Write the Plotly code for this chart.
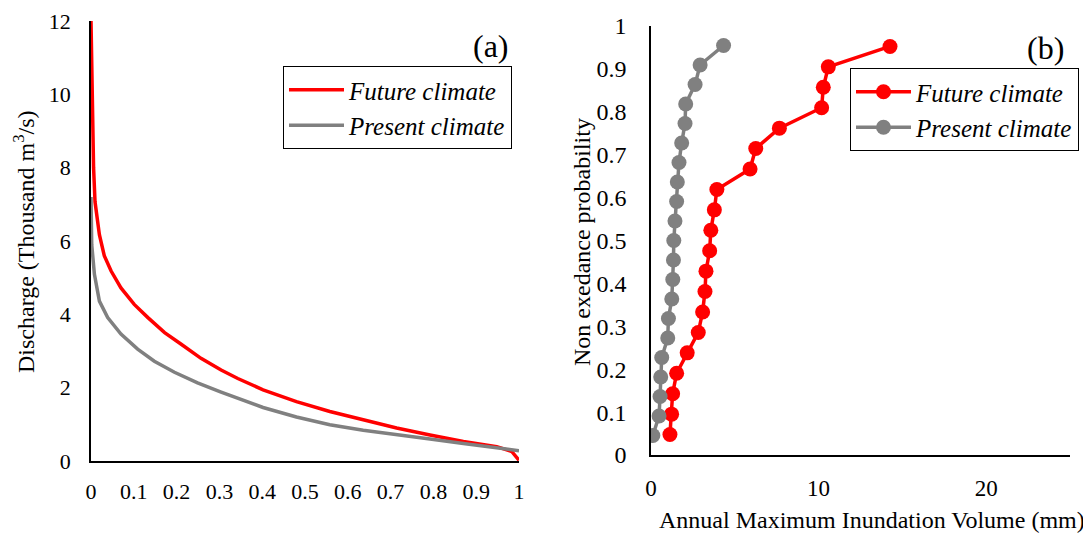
import plotly.graph_objects as go

# ---- Panel (a): flow duration curves ----
fut_p = [0, 0.002, 0.004, 0.006, 0.0094, 0.0196, 0.031, 0.047, 0.07, 0.101, 0.133, 0.172,
         0.21, 0.257, 0.304, 0.343, 0.402, 0.48, 0.558, 0.636, 0.714, 0.792, 0.87, 0.948,
         0.983, 1.0]
fut_q = [12, 10.2, 8.9, 8.0, 7.07, 6.17, 5.6, 5.18, 4.72, 4.27, 3.91, 3.5,
         3.19, 2.8, 2.48, 2.25, 1.94, 1.62, 1.35, 1.12, 0.9, 0.71, 0.53, 0.39,
         0.26, 0.02]
pres_p = [0, 0.0017, 0.008, 0.0196, 0.039, 0.07, 0.109, 0.148, 0.195, 0.249, 0.304, 0.343,
          0.402, 0.48, 0.558, 0.636, 0.714, 0.792, 0.87, 0.948, 1.0]
pres_q = [7.2, 5.9, 5.09, 4.36, 3.91, 3.46, 3.05, 2.72, 2.42, 2.13, 1.88, 1.71,
          1.46, 1.2, 0.99, 0.84, 0.71, 0.6, 0.48, 0.36, 0.28]

# ---- Panel (b): annual maximum inundation volume ----
fut_vol = [1.13, 1.23, 1.29, 1.53, 2.16, 2.82, 3.08, 3.22, 3.28, 3.5, 3.57, 3.78, 3.93,
           5.91, 6.25, 7.66, 10.18, 10.28, 10.58, 14.26]
fut_prob = [i / 21 for i in range(1, 21)]
pres_vol = [0.11, 0.48, 0.54, 0.58, 0.64, 1.0, 1.04, 1.24, 1.3, 1.34, 1.36, 1.43, 1.53,
            1.57, 1.67, 1.83, 2.03, 2.07, 2.63, 2.93, 4.33]
pres_prob = [i / 22 for i in range(1, 22)]

x_ticks_a = [0, 0.1, 0.2, 0.3, 0.4, 0.5, 0.6, 0.7, 0.8, 0.9, 1]
y_ticks_a = [0, 2, 4, 6, 8, 10, 12]
x_ticks_b = [0, 10, 20]
y_ticks_b = [0, 0.1, 0.2, 0.3, 0.4, 0.5, 0.6, 0.7, 0.8, 0.9, 1]

RED = "#FF0000"
GRAY = "#808080"
FONT = "Liberation Serif"

fig = go.Figure()
fig.add_trace(go.Scatter(x=fut_p, y=fut_q, mode="lines", name="Future climate",
                         line=dict(color=RED, width=3.5), xaxis="x", yaxis="y", legend="legend"))
fig.add_trace(go.Scatter(x=pres_p, y=pres_q, mode="lines", name="Present climate",
                         line=dict(color=GRAY, width=3.5), xaxis="x", yaxis="y", legend="legend"))
fig.add_trace(go.Scatter(x=fut_vol, y=fut_prob, mode="lines+markers", name="Future climate",
                         line=dict(color=RED, width=3.5), marker=dict(color=RED, size=15),
                         xaxis="x2", yaxis="y2", legend="legend2"))
fig.add_trace(go.Scatter(x=pres_vol, y=pres_prob, mode="lines+markers", name="Present climate",
                         line=dict(color=GRAY, width=3.5), marker=dict(color=GRAY, size=15),
                         xaxis="x2", yaxis="y2", legend="legend2"))

W, H = 1091, 533
OFF = 8  # page body margin offset
def fx(px):
    return (px - OFF) / W
def fy(py):
    return 1 - (py - OFF) / H

axis_common = dict(showgrid=False, zeroline=False, showline=True, linecolor="black", linewidth=1.5,
                   ticks="outside", tickcolor="rgba(0,0,0,0)", color="black", automargin=False,
                   ticklabeloverflow="allow")

def ann(text, x, y, size, angle=0):
    return dict(text=text, x=fx(x), y=fy(y), xref="paper", yref="paper", showarrow=False,
                xanchor="center", yanchor="middle", textangle=angle,
                font=dict(size=size, family=FONT))

fig.update_layout(
    width=W, height=H,
    margin=dict(l=0, r=0, t=0, b=0, pad=0, autoexpand=False),
    paper_bgcolor="white", plot_bgcolor="white",
    font=dict(family=FONT, color="black"),
    xaxis=dict(domain=[fx(91), fx(519)], range=[0, 1], tickvals=x_ticks_a,
               ticktext=[f"{v:g}" for v in x_ticks_a], ticklen=10,
               tickfont=dict(size=22, family=FONT), anchor="y", **axis_common),
    yaxis=dict(domain=[fy(461), fy(21)], range=[0, 12], tickvals=y_ticks_a, ticklen=14,
               tickfont=dict(size=22, family=FONT), anchor="x", **axis_common),
    xaxis2=dict(domain=[fx(651), fx(1070)], range=[0, 25], tickvals=x_ticks_b, ticklen=12,
                tickfont=dict(size=23, family=FONT), anchor="y2", **axis_common),
    yaxis2=dict(domain=[fy(455), fy(26)], range=[0, 1], tickvals=y_ticks_b,
                ticktext=[f"{v:g}" for v in y_ticks_b], ticklen=18,
                tickfont=dict(size=24, family=FONT), anchor="x2", **axis_common),
    legend=dict(x=fx(283), y=fy(66), xanchor="left", yanchor="top",
                bgcolor="white", bordercolor="black", borderwidth=1,
                font=dict(size=25, family=FONT, style="italic"), itemwidth=55,
                tracegroupgap=0),
    legend2=dict(x=fx(850), y=fy(68), xanchor="left", yanchor="top",
                 bgcolor="white", bordercolor="black", borderwidth=1,
                 font=dict(size=25, family=FONT, style="italic"), itemwidth=55,
                 tracegroupgap=0),
    annotations=[
        ann("(a)", 491, 46, 32),
        ann("(b)", 1045, 48, 32),
        ann("Discharge (Thousand m<sup>3</sup>/s)", 24, 242, 24, -90),
        ann("Non exedance probability", 582, 242, 24, -90),
        ann("Annual Maximum Inundation Volume (mm)", 872, 520, 24),
    ],
)

fig.write_html("out.html")
